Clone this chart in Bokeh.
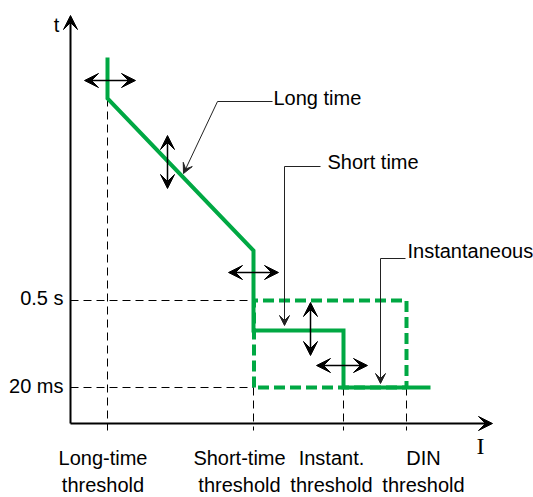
from bokeh.plotting import figure
from bokeh.models import Range1d, Arrow, VeeHead, ColumnDataSource
from bokeh.core.properties import value
from bokeh.embed import file_html
from bokeh.resources import INLINE

# ---- data (schematic units: current I on x, time t on y) ----
thr_labels = ["Long-time\nthreshold", "Short-time\nthreshold", "Instant.\nthreshold", "DIN\nthreshold"]
thr_x = [3.7, 18.3, 27.3, 33.6]
label_x = [3.25, 16.9, 26.1, 35.3]
t_labels = ["0.5 s", "20 ms"]
t_y = [12.3, 3.6]

curve_x = [3.7, 3.7, 18.3, 18.3, 27.3, 27.3, 36.0]
curve_y = [36.6, 32.5, 17.3, 9.3, 9.3, 3.6, 3.6]

# DIN / adjustable short-time envelope (dashed)
env_x = [18.35, 18.35, 33.6, 33.6, 18.35]
env_y = [3.6, 12.3, 12.3, 3.6, 3.6]

# setting arrows (double headed)
adj_x0 = [1.4, 9.7, 15.8, 24.0, 24.6]
adj_y0 = [34.3, 28.8, 15.1, 12.1, 5.8]
adj_x1 = [6.5, 9.7, 20.8, 24.0, 29.7]
adj_y1 = [34.3, 23.5, 15.1, 6.8, 5.8]

# callouts
call_text = ["Long time", "Short time", "Instantaneous"]
call_tx = [20.3, 25.7, 33.7]
call_ty = [32.6, 26.2, 17.3]
lead_xa = [20.2, 25.0, 33.5]
lead_xb = [14.7, 21.4, 31.0]
lead_y = [32.2, 25.7, 16.5]
lead_xe = [11.3, 21.4, 31.0]
lead_ye = [25.0, 9.8, 4.0]

GREEN = "#00a843"
FONT = "Liberation Sans"

p = figure(width=533, height=497, output_backend="svg", toolbar_location=None,
           x_range=Range1d(-7.0, 46.3), y_range=Range1d(-7.4, 42.3),
           min_border=0, outline_line_color=None)
p.axis.visible = False
p.grid.visible = False
p.background_fill_color = "white"

# guide lines
for x, ytop in zip(thr_x, [curve_y[1], 3.6, 3.6, 3.6]):
    p.line([x, x], [ytop, -0.7], line_color="black", line_width=1, line_dash="8 5")
for y in t_y:
    p.line([0, thr_x[1]], [y, y], line_color="black", line_width=1, line_dash="8 5")

# axes
axes = ColumnDataSource(dict(x0=[0, 0], y0=[0, 0], x1=[0, 42.2], y1=[40.8, 0]))
p.add_layout(Arrow(end=VeeHead(size=14, fill_color="black", line_color="black"),
                   x_start="x0", y_start="y0", x_end="x1", y_end="y1",
                   source=axes, line_width=2, line_color="black"))

# curves
p.line(env_x, env_y, line_color=GREEN, line_width=4, line_dash="11 5")
p.line(curve_x, curve_y, line_color=GREEN, line_width=4, line_join="miter")

# adjustment arrows
adj = ColumnDataSource(dict(x0=adj_x0, y0=adj_y0, x1=adj_x1, y1=adj_y1))
p.add_layout(Arrow(start=VeeHead(size=14, fill_color="black", line_color="black"),
                   end=VeeHead(size=14, fill_color="black", line_color="black"),
                   x_start="x0", y_start="y0", x_end="x1", y_end="y1",
                   source=adj, line_width=1.5, line_color="black"))

# callout leaders
for xa, xb, y in zip(lead_xa, lead_xb, lead_y):
    p.line([xa, xb], [y, y], line_color="#222222", line_width=1)
lead = ColumnDataSource(dict(x0=lead_xb, y0=lead_y, x1=lead_xe, y1=lead_ye))
p.add_layout(Arrow(end=VeeHead(size=10, fill_color="#222222", line_color="#222222"),
                   x_start="x0", y_start="y0", x_end="x1", y_end="y1",
                   source=lead, line_width=1, line_color="#222222"))

# texts
p.text(call_tx, call_ty, text=call_text, text_font=value(FONT), text_font_size="20px",
       text_align="left", text_baseline="middle", text_color="black")
p.text([-0.7] * 2, [12.6, 3.8], text=t_labels, text_font=value(FONT), text_font_size="20px",
       text_align="right", text_baseline="middle", text_color="black")
p.text(label_x, [-2.3] * 4, text=thr_labels, text_font=value(FONT), text_font_size="20px",
       text_align="center", text_baseline="top", text_line_height=1.27, text_color="black")
p.text([-1.4], [39.9], text=["t"], text_font=value(FONT), text_font_size="20px",
       text_align="center", text_baseline="middle", text_color="black")
p.text([41.0], [-2.2], text=["I"], text_font=value("Liberation Serif"), text_font_size="24px",
       text_align="center", text_baseline="middle", text_color="black")

open("out.html", "w").write(file_html(p, INLINE))
